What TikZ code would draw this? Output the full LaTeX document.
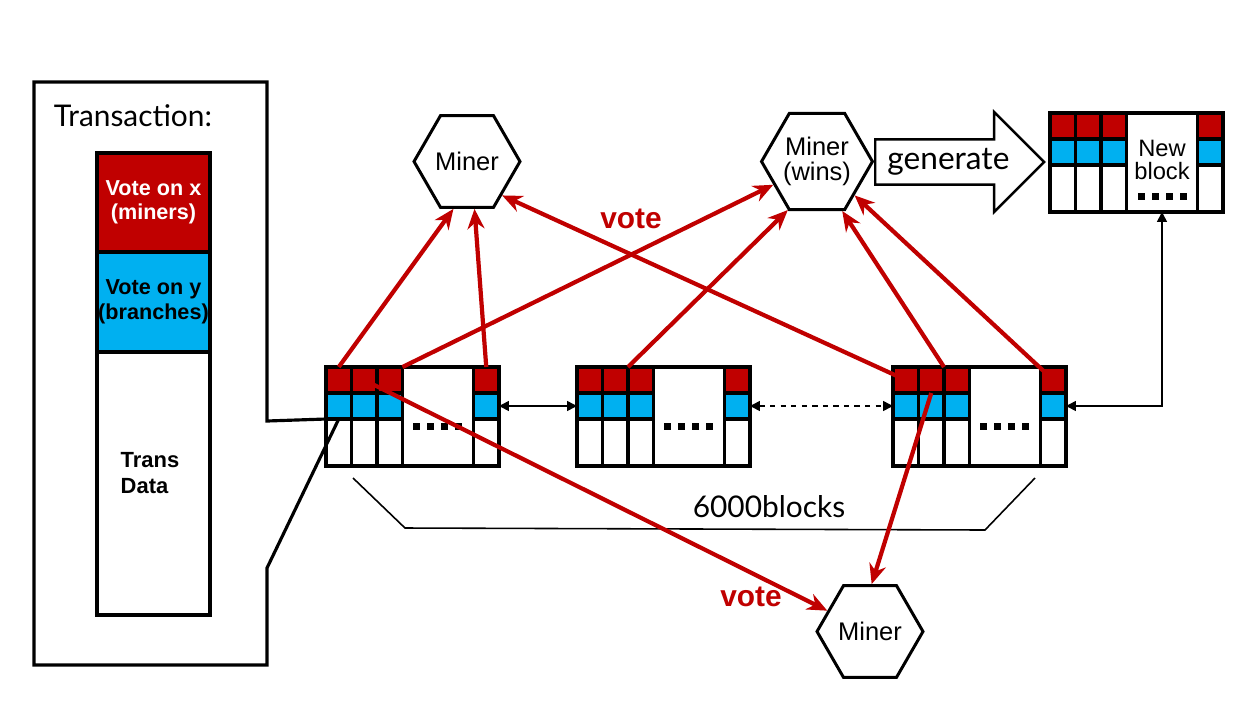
\documentclass[tikz,border=0pt]{standalone}
\usepackage{fontspec}
\setmainfont{Liberation Sans}
\newfontfamily\thinfont{Lato}
\usetikzlibrary{shapes.geometric,shapes.arrows,arrows.meta}
\definecolor{votered}{RGB}{192,0,0}
\definecolor{voteblue}{RGB}{0,176,240}

\tikzset{
  cell/.style={draw, line width=1.8pt, inner sep=0pt, outer sep=0pt, anchor=north west,
    minimum width=0.51cm, minimum height=0.52cm},
  redcell/.style={cell, fill=votered},
  bluecell/.style={cell, fill=voteblue},
  whitecell/.style={cell, fill=white, minimum height=0.94cm},
  bigcell/.style={cell, fill=white, minimum width=1.42cm, minimum height=1.98cm},
  txpart/.style={draw, line width=1.8pt, anchor=north west, inner sep=0pt, outer sep=0pt,
    minimum width=2.26cm, align=center, font=\bfseries\fontsize{12.3}{14}\selectfont},
  miner/.style={draw, line width=1.7pt, regular polygon, regular polygon sides=6,
    minimum size=2.12cm, inner sep=0pt, align=center, font=\fontsize{14.5}{14}\selectfont},
  vote/.style={draw=votered, line width=2.4pt, -{Stealth[length=4mm,width=3.4mm]}},
  votelabel/.style={text=votered, font=\bfseries\fontsize{17}{19}\selectfont},
  link/.style={line width=0.9pt, {Triangle[length=2mm,width=2mm]}-{Triangle[length=2mm,width=2mm]}},
}

% one block of the chain: name, x, y of the top left corner
\newcommand{\chainblk}[3]{%
  \foreach \c/\dx in {1/0,2/25.5,3/51,5/147.5}{%
    \node[redcell] (#1-r\c) at (#2+\dx,#3) {};
    \node[bluecell] (#1-b\c) at (#2+\dx,#3+26) {};
    \node[whitecell] (#1-w\c) at (#2+\dx,#3+52) {};
  }
  \node[bigcell] (#1-big) at (#2+76.5,#3) {};
}
\newcommand{\dotrow}[2]{%
  \foreach \k in {0,...,3}{\fill (#1+14*\k,#2) rectangle ++(6.5,6.5);}}

\begin{document}
\begin{tikzpicture}[x=0.02cm, y=-0.02cm]
    \useasboundingbox[fill=white] (0,0) rectangle (1259,725);

    % chain
    \chainblk{A}{326}{367}
    \chainblk{B}{577}{367}
    \chainblk{C}{893}{367}
    \chainblk{N}{1050}{113}
    \dotrow{413}{423}
    \dotrow{664}{423}
    \dotrow{980}{423}
    \dotrow{1138}{193}
    \node[align=center, font=\fontsize{13.5}{13.6}\selectfont] (N-txt) at (1162,160) {New\\block};

    % transaction
    \draw[line width=1.8pt] (A-w1.north) -- (267,568) -- (267,665) -- (34,665) -- (34,82)
        -- (267,82) -- (267,421) -- (A-w1.north west);
    \node[font=\thinfont\fontsize{17}{19}\selectfont] (txlabel) at (133,116) {Transaction:};
    \node[txpart, fill=votered, text=white, minimum height=1.98cm] (txx) at (97,153) {Vote on x\\(miners)};
    \node[txpart, fill=voteblue, minimum height=2cm] (txy) at (97,252) {Vote on y\\(branches)};
    \node[txpart, minimum height=5.26cm] (txdata) at (97,352) {};
    \node[align=left, font=\bfseries\fontsize{12.5}{15}\selectfont] (txdatalabel) at (150,473) {Trans\\Data};

    % miners
    \node[miner] (m1) at (467,161.5) {Miner};
    \node[miner] (m2) at (817,161.5) {Miner\\(wins)};
    \node[miner] (m3) at (870,631.5) {Miner};
    \node[draw, line width=1.4pt, single arrow, single arrow head extend=0.5cm,
        minimum height=3.38cm, minimum width=2cm, anchor=tail,
        font=\thinfont\fontsize{18}{20}\selectfont] (gen) at (874,162) {generate};

    % links between blocks
    \draw[link] (A-b5.east) -- (B-b1.west);
    \draw[link, dashed] (B-b5.east) -- (C-b1.west);
    \draw[link] (C-b5.east) -| (N-big.south);
    \draw[line width=0.9pt] (353,478) -- (405,528) -- (985,530) -- (1035,478);
    \node[font=\thinfont\fontsize{17}{19}\selectfont] (span) at (769,507) {6000blocks};

    % votes
    \draw[vote] (A-r1.north) -- (m1.-106);
    \draw[vote] (A-r5.north) -- (m1.-81);
    \draw[vote] (A-r3.north east) -- (m2.-152);
    \draw[vote] (A-r2.center) -- (m3.154);
    \draw[vote] (B-r2.north east) -- (m2.-121);
    \draw[vote] (C-r1.center) -- (m1.-44);
    \draw[vote] (C-r3.north west) -- (m2.-63);
    \draw[vote] (C-r5.center) -- (m2.-42);
    \draw[vote] (C-r2.south) -- (m3.88);
    \node[votelabel] (vote1) at (631,219) {vote};
    \node[votelabel] (vote2) at (751,597) {vote};
\end{tikzpicture}
\end{document}
